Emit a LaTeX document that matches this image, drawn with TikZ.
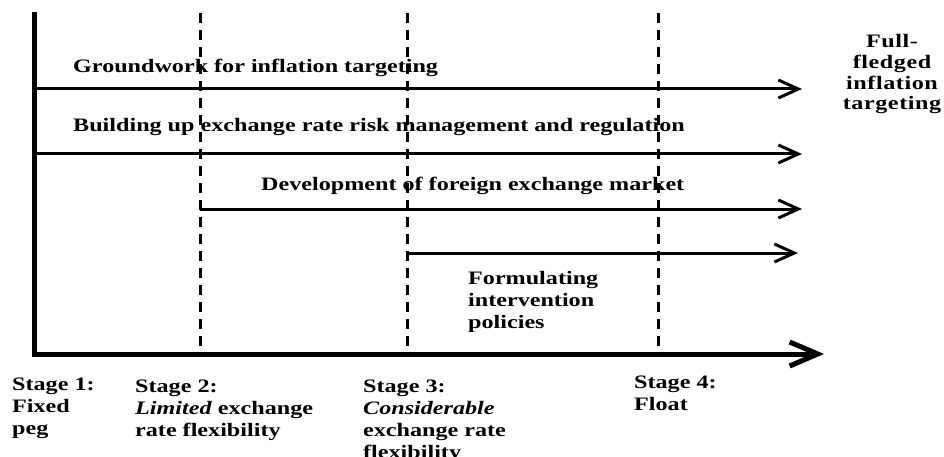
\documentclass[tikz,border=0pt]{standalone}
\usepackage{fontspec}
\setmainfont[FakeStretch=1.27]{Liberation Serif}
\usetikzlibrary{arrows.meta}
\begin{document}
\begin{tikzpicture}[x=1pt,y=-1pt,
  lbl/.style={font=\fontsize{19}{22}\selectfont\bfseries, inner sep=0pt, anchor=base west, align=left},
  axisline/.style={line width=5pt},
  barline/.style={line width=3pt, -{Straight Barb[length=20pt,width=18pt,line width=3pt]}},
  stageline/.style={line width=3pt, dash pattern=on 10pt off 7pt}]
\useasboundingbox (0,0) rectangle (944,457);
% axes
\coordinate (top) at (34,12);
\coordinate (orig) at (34,354);
\coordinate (xend) at (824,354);
\draw[axisline] (top) -- (orig);
\draw[line width=5pt, -{Straight Barb[length=28pt,width=24pt,line width=5pt]}] (31.5,354) -- (xend);
% stage lines
\coordinate (s2t) at (200,13); \coordinate (s2b) at (200,352);
\coordinate (s3t) at (407,13); \coordinate (s3b) at (407,352);
\coordinate (s4t) at (658,13); \coordinate (s4b) at (658,350);
\draw[stageline] (s2t) -- (s2b);
\draw[stageline] (s3t) -- (s3b);
\draw[stageline] (s4t) -- (s4b);
% horizontal arrows
\coordinate (a1s) at (34,89); \coordinate (a1e) at (802,89);
\coordinate (a2s) at (34,154); \coordinate (a2e) at (802,154);
\coordinate (a3s) at (200,209); \coordinate (a3e) at (802,209);
\coordinate (a4s) at (407,253); \coordinate (a4e) at (798,253);
\draw[barline] (a1s) -- (a1e);
\draw[barline] (a2s) -- (a2e);
\draw[barline] (a3s) -- (a3e);
\draw[barline] (a4s) -- (a4e);
% labels (anchor = baseline of the last line)
\node[lbl] (t1) at (73,73) {Groundwork for inflation targeting};
\node[lbl] (t2) at (73,132) {Building up exchange rate risk management and regulation};
\node[lbl] (t3) at (261,190) {Development of foreign exchange market};
\node[lbl] (t4) at (468,328) {Formulating\\intervention\\policies};
\node[lbl, align=center, anchor=base, font=\fontsize{19}{20.7}\selectfont\bfseries\addfontfeature{LetterSpace=3}] (full) at (892,110) {Full-\\fledged\\inflation\\targeting};
\node[lbl] (st1) at (12,434) {Stage 1:\\Fixed\\peg};
\node[lbl] (st2) at (135,436) {Stage 2:\\\textit{Limited} exchange\\rate flexibility};
\node[lbl] (st3) at (363,458) {Stage 3:\\\textit{Considerable}\\exchange rate\\flexibility};
\node[lbl] (st4) at (634,410) {Stage 4:\\Float};
\end{tikzpicture}
\end{document}
